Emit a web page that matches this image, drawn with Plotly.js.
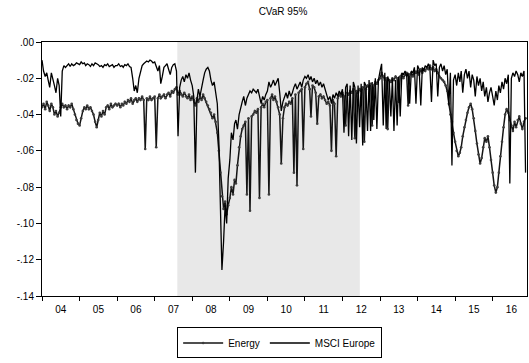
<!DOCTYPE html>
<html>
<head>
<meta charset="utf-8">
<script src="https://cdn.plot.ly/plotly-3.0.1.min.js"></script>
<style>
  html, body { margin: 0; padding: 0; background: #fff; }
  #chart { width: 529px; height: 363px; }
</style>
</head>
<body>
<div id="chart"></div>
<script>
// Half-monthly observations (1st and 16th of each month), Jan 2004 - Nov 2016
const firstYear = 2004;
const lastDate = '2016-11-16';

// CVaR 95% - Energy sector, one row per year
const energy = [
  -0.036,-0.034,-0.037,-0.033,-0.035,-0.038,-0.034,-0.036,-0.040,-0.038,-0.041,-0.039,-0.036,-0.034,-0.036,-0.035,-0.037,-0.035,-0.036,-0.034,-0.037,-0.040,-0.043,-0.045, // 2004
  -0.046,-0.042,-0.038,-0.036,-0.037,-0.035,-0.037,-0.036,-0.038,-0.040,-0.044,-0.047,-0.043,-0.039,-0.041,-0.038,-0.040,-0.036,-0.035,-0.037,-0.034,-0.036,-0.035,-0.034, // 2005
  -0.035,-0.034,-0.036,-0.034,-0.035,-0.033,-0.034,-0.032,-0.033,-0.031,-0.034,-0.032,-0.031,-0.033,-0.031,-0.032,-0.030,-0.032,-0.059,-0.031,-0.032,-0.030,-0.032,-0.031, // 2006
  -0.030,-0.058,-0.031,-0.029,-0.031,-0.030,-0.029,-0.031,-0.029,-0.028,-0.030,-0.027,-0.028,-0.026,-0.025,-0.029,-0.027,-0.029,-0.030,-0.028,-0.030,-0.031,-0.029,-0.032, // 2007
  -0.030,-0.032,-0.035,-0.031,-0.033,-0.030,-0.032,-0.029,-0.031,-0.033,-0.035,-0.037,-0.039,-0.042,-0.040,-0.044,-0.050,-0.060,-0.072,-0.085,-0.092,-0.088,-0.095,-0.090, // 2008
  -0.086,-0.080,-0.084,-0.076,-0.078,-0.068,-0.058,-0.052,-0.048,-0.046,-0.044,-0.084,-0.042,-0.093,-0.041,-0.040,-0.038,-0.039,-0.037,-0.086,-0.036,-0.034,-0.036,-0.033, // 2009
  -0.032,-0.084,-0.031,-0.029,-0.032,-0.030,-0.033,-0.036,-0.040,-0.067,-0.042,-0.036,-0.034,-0.035,-0.033,-0.034,-0.031,-0.072,-0.029,-0.079,-0.028,-0.027,-0.026,-0.059, // 2010
  -0.025,-0.023,-0.022,-0.026,-0.041,-0.024,-0.025,-0.028,-0.045,-0.030,-0.029,-0.031,-0.030,-0.032,-0.034,-0.033,-0.035,-0.060,-0.032,-0.034,-0.063,-0.031,-0.029,-0.030, // 2011
  -0.028,-0.030,-0.046,-0.028,-0.029,-0.027,-0.028,-0.026,-0.053,-0.027,-0.028,-0.026,-0.027,-0.025,-0.055,-0.026,-0.024,-0.025,-0.023,-0.046,-0.024,-0.022,-0.023,-0.021, // 2012
  -0.020,-0.017,-0.019,-0.021,-0.020,-0.048,-0.021,-0.022,-0.020,-0.021,-0.019,-0.020,-0.033,-0.019,-0.018,-0.020,-0.018,-0.017,-0.035,-0.018,-0.017,-0.019,-0.016,-0.017, // 2013
  -0.016,-0.018,-0.015,-0.017,-0.015,-0.016,-0.014,-0.015,-0.013,-0.015,-0.014,-0.016,-0.015,-0.017,-0.019,-0.020,-0.021,-0.022,-0.024,-0.027,-0.034,-0.040,-0.044,-0.050, // 2014
  -0.055,-0.060,-0.063,-0.061,-0.058,-0.052,-0.047,-0.043,-0.039,-0.036,-0.034,-0.037,-0.042,-0.049,-0.056,-0.062,-0.067,-0.064,-0.058,-0.053,-0.055,-0.052,-0.058,-0.065, // 2015
  -0.072,-0.079,-0.083,-0.080,-0.072,-0.063,-0.055,-0.047,-0.040,-0.037,-0.039,-0.043,-0.046,-0.049,-0.044,-0.047,-0.043,-0.041,-0.045,-0.048,-0.044,-0.042          // 2016
];

// CVaR 95% - MSCI Europe, one row per year
const msciEurope = [
  -0.010,-0.016,-0.019,-0.017,-0.021,-0.025,-0.017,-0.020,-0.024,-0.028,-0.020,-0.024,-0.041,-0.016,-0.013,-0.014,-0.013,-0.012,-0.0135,-0.012,-0.013,-0.0125,-0.0115,-0.012, // 2004
  -0.0125,-0.011,-0.012,-0.0115,-0.013,-0.012,-0.0125,-0.0135,-0.012,-0.013,-0.0115,-0.012,-0.0125,-0.0135,-0.013,-0.014,-0.0125,-0.013,-0.012,-0.0135,-0.013,-0.0125,-0.014,-0.013, // 2005
  -0.013,-0.012,-0.0135,-0.013,-0.014,-0.0125,-0.013,-0.012,-0.0135,-0.014,-0.020,-0.027,-0.024,-0.028,-0.020,-0.016,-0.013,-0.012,-0.011,-0.0105,-0.011,-0.010,-0.0105,-0.0115, // 2006
  -0.011,-0.014,-0.016,-0.013,-0.023,-0.019,-0.014,-0.013,-0.012,-0.015,-0.018,-0.014,-0.0125,-0.012,-0.016,-0.052,-0.025,-0.021,-0.019,-0.022,-0.018,-0.020,-0.017,-0.021, // 2007
  -0.024,-0.030,-0.072,-0.032,-0.026,-0.030,-0.024,-0.021,-0.017,-0.015,-0.014,-0.016,-0.021,-0.024,-0.022,-0.027,-0.034,-0.055,-0.090,-0.1256,-0.110,-0.090,-0.100,-0.075, // 2008
  -0.065,-0.050,-0.054,-0.045,-0.043,-0.048,-0.040,-0.036,-0.033,-0.030,-0.035,-0.031,-0.029,-0.027,-0.028,-0.026,-0.027,-0.028,-0.026,-0.031,-0.034,-0.030,-0.032,-0.029, // 2009
  -0.027,-0.022,-0.025,-0.023,-0.021,-0.024,-0.022,-0.020,-0.028,-0.038,-0.033,-0.030,-0.028,-0.031,-0.027,-0.030,-0.028,-0.025,-0.023,-0.026,-0.024,-0.022,-0.025,-0.021, // 2010
  -0.019,-0.020,-0.018,-0.021,-0.019,-0.022,-0.020,-0.023,-0.021,-0.024,-0.022,-0.025,-0.023,-0.026,-0.028,-0.032,-0.030,-0.034,-0.029,-0.031,-0.028,-0.030,-0.027,-0.029, // 2011
  -0.026,-0.050,-0.025,-0.023,-0.052,-0.024,-0.054,-0.022,-0.025,-0.056,-0.024,-0.047,-0.023,-0.057,-0.022,-0.024,-0.049,-0.021,-0.049,-0.022,-0.043,-0.020,-0.048,-0.021, // 2012
  -0.016,-0.012,-0.046,-0.017,-0.048,-0.019,-0.022,-0.041,-0.020,-0.049,-0.021,-0.046,-0.019,-0.041,-0.017,-0.018,-0.016,-0.019,-0.017,-0.034,-0.016,-0.017,-0.014,-0.034, // 2013
  -0.013,-0.015,-0.035,-0.014,-0.016,-0.013,-0.014,-0.012,-0.015,-0.033,-0.010,-0.013,-0.012,-0.030,-0.014,-0.012,-0.016,-0.013,-0.018,-0.015,-0.035,-0.017,-0.068,-0.021, // 2014
  -0.018,-0.024,-0.017,-0.022,-0.016,-0.028,-0.018,-0.015,-0.020,-0.016,-0.025,-0.018,-0.021,-0.030,-0.019,-0.024,-0.020,-0.027,-0.022,-0.030,-0.025,-0.033,-0.028,-0.025, // 2015
  -0.030,-0.035,-0.027,-0.032,-0.024,-0.028,-0.022,-0.026,-0.020,-0.023,-0.018,-0.078,-0.020,-0.017,-0.019,-0.016,-0.018,-0.022,-0.017,-0.019,-0.016,-0.072          // 2016
];

// Shaded crisis period
const shadedPeriod = ['2007-08-09', '2012-06-18'];

// Axis ticks
const yTickVals = [0, -0.02, -0.04, -0.06, -0.08, -0.10, -0.12, -0.14];
const yTickText = ['.00', '-.02', '-.04', '-.06', '-.08', '-.10', '-.12', '-.14'];
const xRange = ['2004-01-01', '2016-11-30'];

// Observation dates on the half-month grid
const dates = [];
(function () {
  const pad = n => (n < 10 ? '0' + n : '' + n);
  for (let y = firstYear; ; y++) {
    for (let m = 1; m <= 12; m++) {
      for (const d of [1, 16]) {
        const s = y + '-' + pad(m) + '-' + pad(d);
        dates.push(s);
        if (s === lastDate) return;
      }
    }
  }
})();

const FONT = 'Arial, "Liberation Sans", Helvetica, sans-serif';

const traces = [
  {
    name: 'Energy',
    x: dates,
    y: energy,
    type: 'scatter',
    mode: 'lines+markers',
    line: { color: '#141414', width: 1.5 },
    marker: { symbol: 'circle', size: 2.6, color: '#3c3c3c' }
  },
  {
    name: 'MSCI Europe',
    x: dates,
    y: msciEurope,
    type: 'scatter',
    mode: 'lines',
    line: { color: '#000000', width: 1.3 }
  }
];

const layout = {
  width: 529,
  height: 363,
  margin: { l: 42, r: 2, t: 42, b: 67 },
  paper_bgcolor: '#ffffff',
  plot_bgcolor: '#ffffff',
  font: { family: FONT, size: 10, color: '#000' },
  title: {
    text: 'CVaR 95%',
    font: { family: FONT, size: 10, color: '#000' },
    x: 0.535, xanchor: 'center',
    y: 0.967, yanchor: 'middle'
  },
  xaxis: {
    type: 'date',
    range: xRange,
    tick0: '2004-01-01',
    dtick: 'M12',
    tickformat: '%y',
    ticklabelmode: 'period',
    ticks: 'outside',
    ticklen: 4,
    tickwidth: 1,
    tickcolor: '#000',
    showline: true,
    linecolor: '#000',
    linewidth: 1,
    mirror: true,
    showgrid: false,
    zeroline: false,
    tickfont: { family: FONT, size: 10, color: '#000' }
  },
  yaxis: {
    range: [-0.14, 0],
    tickvals: yTickVals,
    ticktext: yTickText,
    ticks: 'outside',
    ticklen: 5,
    tickwidth: 1,
    tickcolor: '#000',
    showline: true,
    linecolor: '#000',
    linewidth: 1,
    mirror: true,
    showgrid: false,
    zeroline: false,
    tickfont: { family: FONT, size: 10, color: '#000' }
  },
  shapes: [
    {
      type: 'rect',
      xref: 'x', yref: 'paper',
      x0: shadedPeriod[0], x1: shadedPeriod[1],
      y0: 0, y1: 1,
      fillcolor: '#e8e8e8',
      line: { width: 0 },
      layer: 'below'
    }
  ],
  showlegend: true,
  legend: {
    orientation: 'h',
    x: 0.49, xanchor: 'center',
    y: -0.185, yanchor: 'middle',
    bgcolor: '#ffffff',
    bordercolor: '#000',
    borderwidth: 1,
    font: { family: FONT, size: 10, color: '#000' },
    itemwidth: 40,
    tracegroupgap: 0
  }
};

Plotly.newPlot('chart', traces, layout, { displayModeBar: false, staticPlot: true });
</script>
</body>
</html>
